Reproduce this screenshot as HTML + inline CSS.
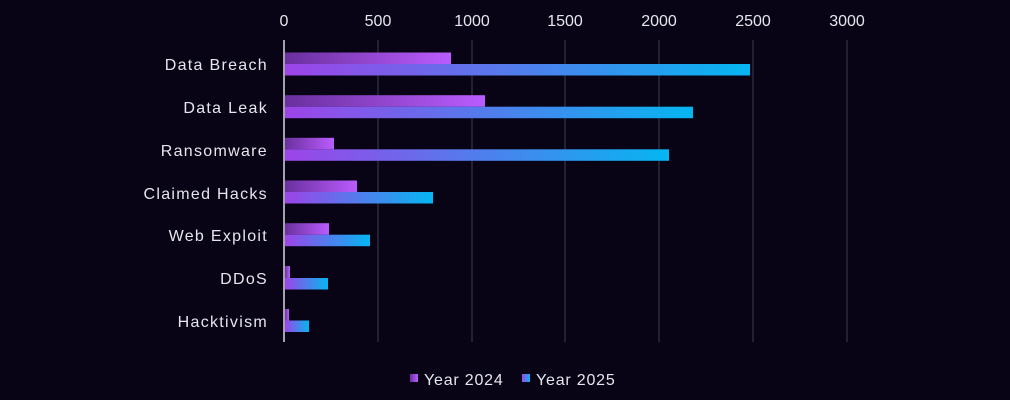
<!DOCTYPE html>
<html><head><meta charset="utf-8"><style>
html,body{margin:0;padding:0;background:#080415;}
svg{display:block;font-family:"Liberation Sans",sans-serif;}
</style></head><body>
<svg width="1010" height="400" viewBox="0 0 1010 400">
<defs>
<linearGradient id="g1" x1="0" y1="0" x2="1" y2="0"><stop offset="0" stop-color="#6a309e"/><stop offset="1" stop-color="#bb5cff"/></linearGradient>
<linearGradient id="g2" x1="0" y1="0" x2="1" y2="0"><stop offset="0" stop-color="#9d44e8"/><stop offset="1" stop-color="#05b6f1"/></linearGradient>
</defs>
<rect width="1010" height="400" fill="#080415"/>
<g stroke="#2b2940" stroke-width="1.5">
<line x1="378" y1="40" x2="378" y2="342"/><line x1="472" y1="40" x2="472" y2="342"/>
<line x1="565" y1="40" x2="565" y2="342"/><line x1="659" y1="40" x2="659" y2="342"/>
<line x1="753" y1="40" x2="753" y2="342"/><line x1="847" y1="40" x2="847" y2="342"/>
</g>
<g fill="#e6e6ee" font-size="16" text-anchor="middle">
<text x="284" y="26">0</text><text x="378" y="26">500</text><text x="472" y="26">1000</text>
<text x="565" y="26">1500</text><text x="659" y="26">2000</text><text x="753" y="26">2500</text><text x="847" y="26">3000</text>
</g>
<g fill="#e6e6ee" font-size="16" text-anchor="end" letter-spacing="1.3">
<text x="268" y="70">Data Breach</text><text x="268" y="113">Data Leak</text>
<text x="268" y="156">Ransomware</text><text x="268" y="199">Claimed Hacks</text>
<text x="268" y="241">Web Exploit</text><text x="268" y="284">DDoS</text><text x="268" y="327">Hacktivism</text>
</g>
<g>
<rect x="285" y="52.5" width="166" height="11.5" fill="url(#g1)"/><rect x="285" y="64" width="465" height="11.5" fill="url(#g2)"/>
<rect x="285" y="95.2" width="200" height="11.5" fill="url(#g1)"/><rect x="285" y="106.7" width="408" height="11.5" fill="url(#g2)"/>
<rect x="285" y="137.8" width="49" height="11.5" fill="url(#g1)"/><rect x="285" y="149.3" width="384" height="11.5" fill="url(#g2)"/>
<rect x="285" y="180.5" width="72" height="11.5" fill="url(#g1)"/><rect x="285" y="192" width="148" height="11.5" fill="url(#g2)"/>
<rect x="285" y="223.2" width="44" height="11.5" fill="url(#g1)"/><rect x="285" y="234.7" width="85" height="11.5" fill="url(#g2)"/>
<rect x="285" y="266" width="5" height="12" fill="url(#g1)"/><rect x="285" y="278" width="43" height="11.5" fill="url(#g2)"/>
<rect x="285" y="309" width="4" height="11.5" fill="url(#g1)"/><rect x="285" y="320.5" width="24" height="11.5" fill="url(#g2)"/>
</g>
<line x1="284" y1="40" x2="284" y2="342" stroke="#d8d8e0" stroke-width="1.5"/>
<rect x="410" y="374" width="8" height="8" fill="url(#g1)"/>
<text x="424" y="385" fill="#e6e6ee" font-size="16" letter-spacing="0.8">Year 2024</text>
<rect x="522" y="374" width="8" height="8" fill="url(#g2)"/>
<text x="536" y="385" fill="#e6e6ee" font-size="16" letter-spacing="0.8">Year 2025</text>
</svg>
</body></html>
